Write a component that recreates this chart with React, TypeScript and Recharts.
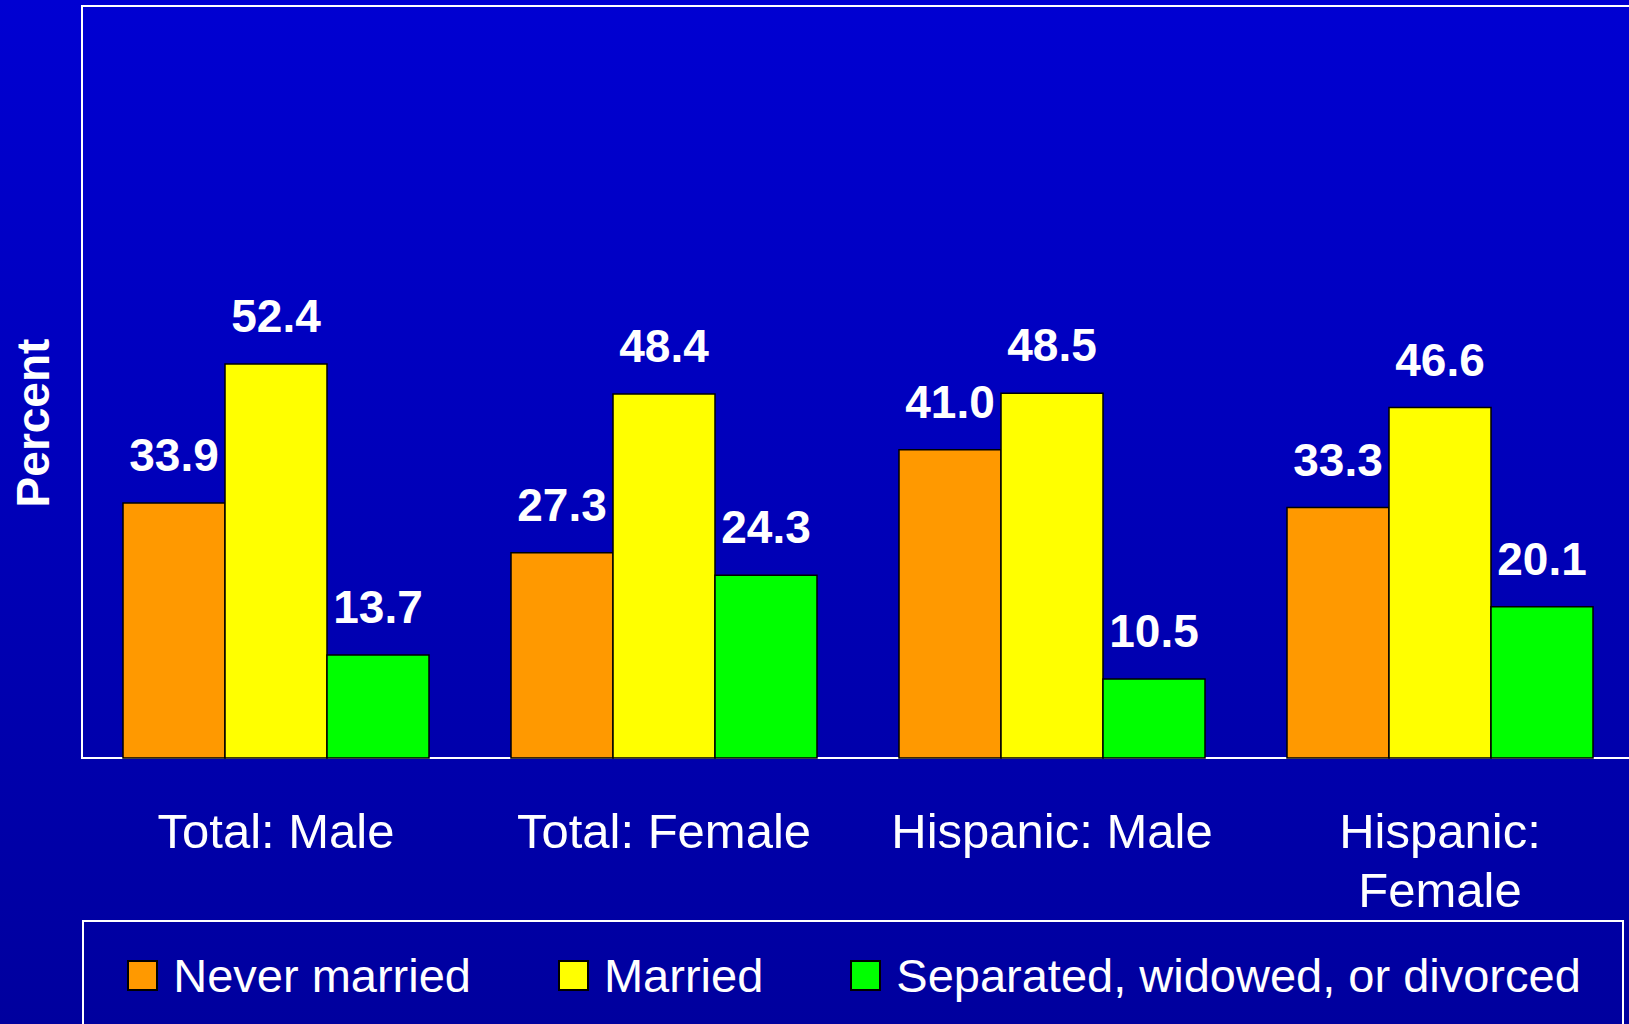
import React from "react";
import {
  BarChart,
  Bar,
  XAxis,
  YAxis,
  Legend,
  LabelList,
  ReferenceArea,
  Customized,
} from "recharts";

const categories = ["Total: Male", "Total: Female", "Hispanic: Male", "Hispanic: Female"];
const seriesNames = ["Never married", "Married", "Separated, widowed, or divorced"];
const neverMarried = [33.9, 27.3, 41.0, 33.3];
const married = [52.4, 48.4, 48.5, 46.6];
const separated = [13.7, 24.3, 10.5, 20.1];

const data = categories.map((name, i) => ({
  name,
  never: neverMarried[i],
  married: married[i],
  separated: separated[i],
}));

const FONT = '"Liberation Sans", Arial, Helvetica, sans-serif';

const CategoryTick = (props: any) => {
  const { x, y, payload } = props;
  const text: string = payload.value;
  // long labels go on two lines, like the original slide
  const lines = text.length > 14 ? text.split(" ") : [text];
  return (
    <text
      x={x}
      y={y + 90}
      textAnchor="middle"
      fill="#fff"
      fontSize={49}
      fontFamily={FONT}
    >
      {lines.map((l, i) => (
        <tspan key={i} x={x} dy={i === 0 ? 0 : 59}>
          {l}
        </tspan>
      ))}
    </text>
  );
};

const LegendBox = (props: any) => {
  const items = [...(props.payload || [])].sort(
    (a: any, b: any) => seriesNames.indexOf(a.value) - seriesNames.indexOf(b.value)
  );
  return (
    <div
      style={{
        borderTop: "2px solid #fff",
        borderLeft: "2px solid #fff",
        borderRight: "2px solid #fff",
        height: 110,
        boxSizing: "border-box",
        display: "flex",
        justifyContent: "center",
        alignItems: "flex-start",
        paddingTop: 30,
        paddingLeft: 2,
        gap: 87,
        fontFamily: FONT,
        fontSize: 47,
        color: "#fff",
      }}
    >
      {items.map((p: any) => (
        <div key={p.value} style={{ display: "flex", alignItems: "center", lineHeight: "47px" }}>
          <span
            style={{
              display: "inline-block",
              width: 27,
              height: 27,
              background: p.color,
              border: "2px solid #000",
              marginRight: 15,
            }}
          />
          <span>{p.value}</span>
        </div>
      ))}
    </div>
  );
};

const PercentLabel = () => (
  <text
    x={49}
    y={423}
    transform="rotate(-90, 49, 423)"
    textAnchor="middle"
    fill="#fff"
    fontSize={46}
    fontWeight="bold"
    fontFamily={FONT}
  >
    Percent
  </text>
);

const labelStyle = {
  position: "top" as const,
  offset: 32,
  fill: "#fff",
  fontSize: 46,
  fontWeight: "bold",
  fontFamily: FONT,
};

export default function App() {
  return (
    <div
      style={{
        position: "absolute",
        left: 0,
        top: 0,
        width: 1629,
        height: 1024,
        overflow: "hidden",
        background: "linear-gradient(to bottom, #0000D2 0%, #00009E 100%)",
        fontFamily: FONT,
      }}
    >
      <BarChart
        width={1629}
        height={1024}
        data={data}
        margin={{ top: 6, right: -5, left: 82, bottom: 166 }}
        barCategoryGap={41}
        barGap={0}
      >
        <XAxis
          dataKey="name"
          height={100}
          axisLine={false}
          tickLine={false}
          tickSize={0}
          tickMargin={0}
          interval={0}
          tick={<CategoryTick />}
        />
        <YAxis domain={[0, 100]} hide />
        <ReferenceArea y1={0} y2={100} fill="none" stroke="#fff" strokeWidth={2} />
        <Bar dataKey="never" name={seriesNames[0]} fill="#FF9900" stroke="#000" strokeWidth={1.5} isAnimationActive={false}>
          <LabelList dataKey="never" formatter={(v: any) => Number(v).toFixed(1)} {...labelStyle} />
        </Bar>
        <Bar dataKey="married" name={seriesNames[1]} fill="#FFFF00" stroke="#000" strokeWidth={1.5} isAnimationActive={false}>
          <LabelList dataKey="married" formatter={(v: any) => Number(v).toFixed(1)} {...labelStyle} />
        </Bar>
        <Bar dataKey="separated" name={seriesNames[2]} fill="#00FF00" stroke="#000" strokeWidth={1.5} isAnimationActive={false}>
          <LabelList dataKey="separated" formatter={(v: any) => Number(v).toFixed(1)} {...labelStyle} />
        </Bar>
        <Customized component={PercentLabel} />
        <Legend
          layout="horizontal"
          verticalAlign="middle"
          align="center"
          content={<LegendBox />}
          wrapperStyle={{ top: 920, left: 82, width: 1542, height: 110 }}
        />
      </BarChart>
    </div>
  );
}
